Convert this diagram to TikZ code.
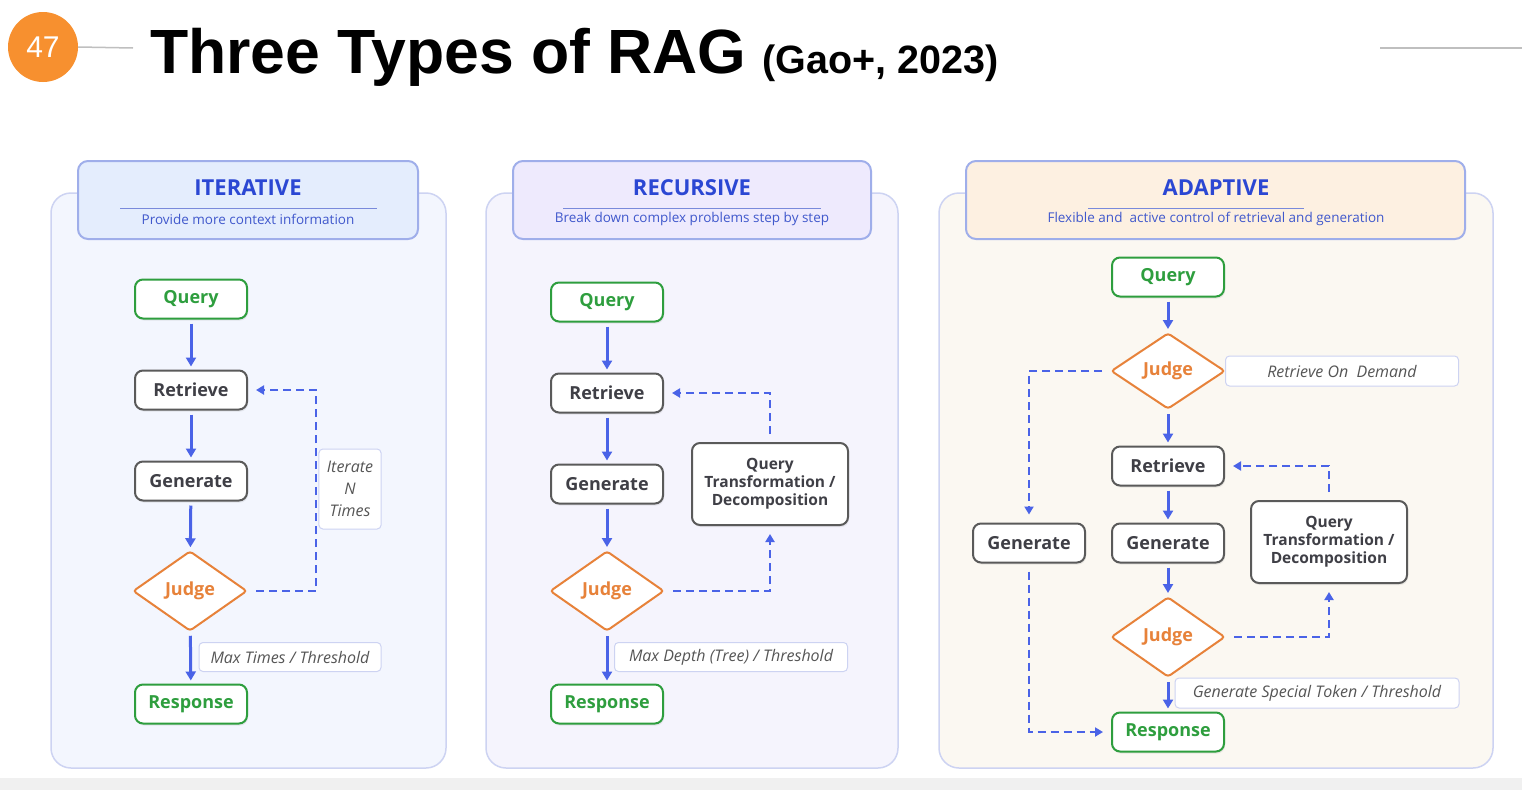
\documentclass[tikz,border=0pt]{standalone}
\usepackage{fontspec}
\setmainfont{Open Sans}
\newfontfamily\titlefont{Liberation Sans}
\usetikzlibrary{arrows.meta,shapes.geometric,shadows}

\definecolor{flowblue}{HTML}{4A63E7}
\definecolor{qgreen}{HTML}{2E9E3E}
\definecolor{boxgray}{HTML}{5A5A5A}
\definecolor{txtgray}{HTML}{3F3F46}
\definecolor{judgeor}{HTML}{E7823A}
\definecolor{headblue}{HTML}{2B47D3}
\definecolor{subblue}{HTML}{4058CC}
\definecolor{headedge}{HTML}{9FAEEA}
\definecolor{paneledge}{HTML}{CDD3F2}
\definecolor{notegray}{HTML}{555555}
\definecolor{badge}{HTML}{F7902F}
\definecolor{fillA}{HTML}{F3F6FE}
\definecolor{fillB}{HTML}{F5F4FD}
\definecolor{fillC}{HTML}{FBF8F2}
\definecolor{headA}{HTML}{E4EDFD}
\definecolor{headB}{HTML}{EEEAFD}
\definecolor{headC}{HTML}{FDF0E1}

\tikzset{
  panel/.style={draw=paneledge, line width=1.5pt, rounded corners=20pt},
  header/.style={draw=headedge, line width=2pt, rounded corners=10pt},
  headtitle/.style={text=headblue, font=\fontsize{22}{24}\selectfont\bfseries},
  headsub/.style={text=subblue, font=\fontsize{13.5}{15}\selectfont},
  flowbox/.style={rectangle, rounded corners=8pt, line width=2pt, fill=white,
    minimum width=112pt, minimum height=39pt, inner sep=2pt,
    drop shadow={shadow xshift=1pt, shadow yshift=-2pt, opacity=0.15},
    font=\fontsize{18}{20}\selectfont\bfseries},
  endbox/.style={flowbox, draw=qgreen, text=qgreen},
  stepbox/.style={flowbox, draw=boxgray, text=txtgray},
  qtbox/.style={stepbox, minimum width=156pt, minimum height=82pt, align=center,
    font=\fontsize{15.5}{18}\selectfont\bfseries},
  judge/.style={diamond, draw=judgeor, text=judgeor, line width=2pt, fill=white,
    rounded corners=3pt, inner sep=0pt, aspect=1.4,
    minimum width=114pt, minimum height=80pt,
    font=\fontsize{18}{20}\selectfont\bfseries},
  note/.style={draw=paneledge, line width=1pt, rounded corners=4pt, fill=white,
    text=notegray, inner xsep=8pt, font=\fontsize{16}{22}\selectfont\itshape},
  flow/.style={draw=flowblue, line width=3pt, -{Triangle[length=9pt,width=10pt]},
    shorten <=4pt, shorten >=3pt},
  dashflow/.style={draw=flowblue, line width=2.8pt, dash pattern=on 8pt off 5pt,
    -{Triangle[length=8pt,width=9pt]}, shorten <=8pt, shorten >=8pt}
}

\begin{document}
\begin{tikzpicture}[x=1pt, y=-1pt]
\useasboundingbox (0,0) rectangle (1522,790);
\fill[white] (0,0) rectangle (1522,790);
\fill[black!6] (0,778) rectangle (1522,790);

% slide heading
\node[circle, fill=badge, minimum size=70pt, text=white,
  font=\titlefont\fontsize{30}{30}\selectfont] (badge) at (43,47) {47};
\draw[black!25, line width=1.5pt] (badge.east) -- (133,48);
\draw[black!25, line width=1.5pt] (1380,48) -- (1522,48);
\node[anchor=base west, inner sep=0pt,
  font=\titlefont\fontsize{62.5}{70}\selectfont\bfseries] (title) at (150,73) {Three Types of RAG};
\node[anchor=base west, inner sep=0pt,
  font=\titlefont\fontsize{39.5}{40}\selectfont\bfseries] (cite) at (762,73) {(Gao+, 2023)};

% panel backgrounds and headers
\draw[panel, fill=fillA] (51,193) rectangle (446,768);
\draw[panel, fill=fillB] (486,193) rectangle (898,768);
\draw[panel, fill=fillC] (939,193) rectangle (1493,768);
\draw[header, fill=headA] (78,161) rectangle (418,239);
\draw[header, fill=headB] (513,161) rectangle (871,239);
\draw[header, fill=headC] (966,161) rectangle (1465,239);
\draw[subblue!70, line width=1pt] (120,208) -- (377,208);
\draw[subblue!70, line width=1pt] (563,208) -- (821,208);
\draw[subblue!70, line width=1pt] (1088,208) -- (1304,208);
\node[headtitle] (tA) at (248,188) {ITERATIVE};
\node[headsub] (sA) at (248,219) {Provide more context information};
\node[headtitle] (tB) at (692,188) {RECURSIVE};
\node[headsub] (sB) at (692,219) {Break down complex problems step by step};
\node[headtitle] (tC) at (1216,188) {ADAPTIVE};
\node[headsub] (sC) at (1216,219) {Flexible and\ \ active control of retrieval and generation};

% Iterative
\node[endbox] (q1) at (191,299) {Query};
\node[stepbox] (r1) at (191,390) {Retrieve};
\node[stepbox] (g1) at (191,481) {Generate};
\node[judge] (j1) at (190,591) {Judge};
\node[endbox] (o1) at (191,704) {Response};
\node[note, align=center, minimum width=61pt, minimum height=80pt] (n1) at (350,489) {Iterate\\N\\Times};
\node[note, minimum width=182pt, minimum height=29pt] (m1) at (290,657) {Max Times / Threshold};
\coordinate (loop1) at (316,390);
\draw[flow] (q1) -- (r1);
\draw[flow] (r1) -- (g1);
\draw[flow] (g1) -- (j1);
\draw[flow] (j1) -- (o1);
\draw[dashflow] (j1.east) -| (loop1) -- (r1.east);

% Recursive
\node[endbox] (q2) at (607,302) {Query};
\node[stepbox] (r2) at (607,393) {Retrieve};
\node[stepbox] (g2) at (607,484) {Generate};
\node[judge] (j2) at (607,591) {Judge};
\node[endbox] (o2) at (607,704) {Response};
\node[qtbox] (t2) at (770,484) {Query\\Transformation /\\Decomposition};
\node[note, minimum width=233pt, minimum height=29pt] (m2) at (731,657) {Max Depth (Tree) / Threshold};
\draw[flow] (q2) -- (r2);
\draw[flow] (r2) -- (g2);
\draw[flow] (g2) -- (j2);
\draw[flow] (j2) -- (o2);
\draw[dashflow] (t2.north) |- (r2.east);
\draw[dashflow] (j2.east) -| (t2.south);

% Adaptive
\node[endbox] (q3) at (1168,277) {Query};
\node[judge, minimum height=76pt] (j3) at (1168,371) {Judge};
\node[note, minimum width=233pt, minimum height=30pt] (d3) at (1342,371) {Retrieve On\ \ Demand};
\node[stepbox] (r3) at (1168,466) {Retrieve};
\node[stepbox] (g3) at (1168,543) {Generate};
\node[stepbox] (h3) at (1029,543) {Generate};
\node[qtbox] (t3) at (1329,542) {Query\\Transformation /\\Decomposition};
\node[judge] (k3) at (1168,637) {Judge};
\node[endbox] (o3) at (1168,732) {Response};
\node[note, minimum width=284pt, minimum height=30pt] (m3) at (1317,693) {Generate Special Token / Threshold};
\draw[flow] (q3) -- (j3);
\draw[flow] (j3) -- (r3);
\draw[flow] (r3) -- (g3);
\draw[flow] (g3) -- (k3);
\draw[flow] (k3) -- (o3);
\draw[dashflow] (j3.west) -| (h3.north);
\draw[dashflow] (h3.south) |- (o3.west);
\draw[dashflow] (t3.north) |- (r3.east);
\draw[dashflow] (k3.east) -| (t3.south);
\end{tikzpicture}
\end{document}
